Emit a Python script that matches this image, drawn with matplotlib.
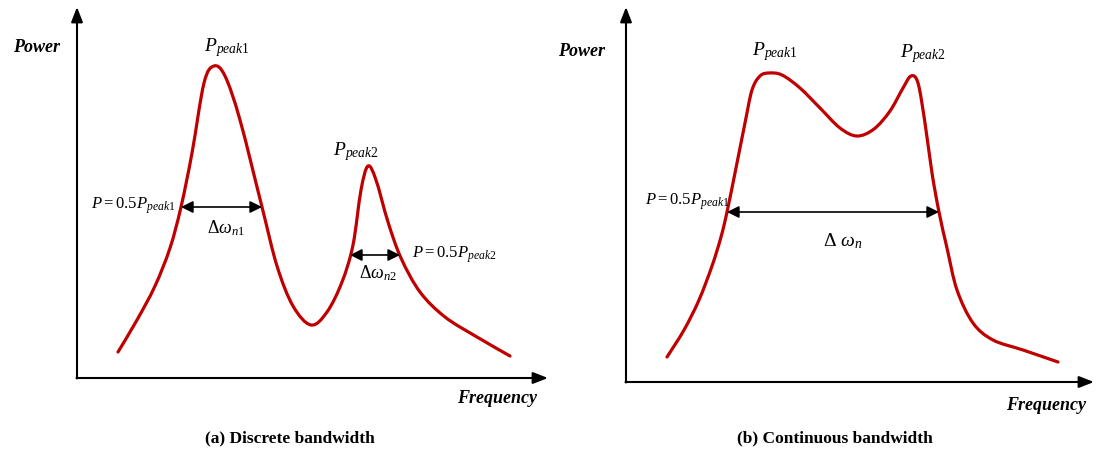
import matplotlib
matplotlib.use("Agg")
import matplotlib.pyplot as plt
from matplotlib.path import Path
from matplotlib.patches import PathPatch

plt.rcParams["font.family"] = "Liberation Serif"
plt.rcParams["mathtext.fontset"] = "custom"
plt.rcParams["mathtext.rm"] = "Liberation Serif"
plt.rcParams["mathtext.it"] = "Liberation Serif:italic"
plt.rcParams["mathtext.bf"] = "Liberation Serif:bold"

# spectrum sketches, frequency vs power in arbitrary units
freq_a = [41, 60, 78, 93, 104, 115, 127, 137, 148, 163, 185, 200, 216, 234,
          250, 265, 276, 284, 291, 299, 311, 324, 343, 368, 400, 433]
power_a = [26, 58, 92, 130, 171, 225, 295, 312, 302, 258, 171, 112, 72, 53,
           66, 96, 133, 188, 212, 198, 156, 120, 86, 61, 41, 22]
freq_b = [41, 58, 73, 86, 95, 101, 110, 119, 126, 134, 143, 156, 174, 194, 214, 231,
          248, 264, 277, 285, 292, 299, 306, 313, 321, 331, 347, 367, 397, 432]
power_b = [25, 52, 82, 116, 145, 170, 214, 259, 292, 306, 309, 307, 294, 274, 254, 246,
           253, 271, 294, 306, 299, 259, 209, 170, 134, 92, 59, 42, 32, 20]

# peaks: (frequency, power)
peaks_a = [(137, 312), (291, 212)]
peaks_b = [(143, 309), (285, 306)]

# half-power bandwidth markers: (f_left, f_right, level)
band_a = [(104, 185, 171), (273, 323, 123)]
band_b = [(101, 313, 170)]

RED = "#C00000"


def smooth_path(xs, ys):
    # cubic Bezier segments through every point (Catmull-Rom tangents)
    pts = list(zip(xs, ys))
    n = len(pts)
    verts = [pts[0]]
    codes = [Path.MOVETO]
    for i in range(n - 1):
        p0 = pts[max(i - 1, 0)]
        p1 = pts[i]
        p2 = pts[i + 1]
        p3 = pts[min(i + 2, n - 1)]
        c1 = (p1[0] + (p2[0] - p0[0]) / 6, p1[1] + (p2[1] - p0[1]) / 6)
        c2 = (p2[0] - (p3[0] - p1[0]) / 6, p2[1] - (p3[1] - p1[1]) / 6)
        verts += [c1, c2, p2]
        codes += [Path.CURVE4] * 3
    return Path(verts, codes)


def draw_axes(ax, xmax, ymax):
    ax.set_xlim(0, xmax)
    ax.set_ylim(0, ymax)
    ax.axis("off")
    style = dict(arrowstyle="-|>,head_length=0.9,head_width=0.35",
                 mutation_scale=10, lw=1.5, color="black", shrinkA=0, shrinkB=0)
    ax.annotate("", xy=(xmax, 0), xytext=(-0.5, 0), arrowprops=style, annotation_clip=False)
    ax.annotate("", xy=(0, ymax), xytext=(0, -0.5), arrowprops=style, annotation_clip=False)


def band_arrow(ax, f0, f1, level):
    ax.annotate("", xy=(f1, level), xytext=(f0, level),
                arrowprops=dict(arrowstyle="<|-|>,head_length=0.8,head_width=0.4",
                                mutation_scale=9, lw=1.2, color="black",
                                shrinkA=0, shrinkB=0))


fig = plt.figure(figsize=(10.97, 4.51), dpi=100)
ax1 = fig.add_axes([77 / 1097, 73 / 451, 471 / 1097, 371 / 451])
ax2 = fig.add_axes([626 / 1097, 69 / 451, 468 / 1097, 375 / 451])

# (a) discrete bandwidth
draw_axes(ax1, 471, 371)
ax1.add_patch(PathPatch(smooth_path(freq_a, power_a), fill=False, ec=RED, lw=2.3,
                        capstyle="round", joinstyle="round"))
ax1.annotate(r"$P_{peak\mathrm{1}}$", peaks_a[0], xytext=(-7, 5), textcoords="offset points",
             ha="left", va="bottom", fontsize=14)
ax1.annotate(r"$P_{peak\mathrm{2}}$", peaks_a[1], xytext=(-25, 2), textcoords="offset points",
             ha="left", va="bottom", fontsize=14)
f0, f1, lv = band_a[0]
band_arrow(ax1, f0, f1, lv)
ax1.annotate(r"$P=0.5P_{peak\mathrm{1}}$", (f0, lv), xytext=(-4, -1), textcoords="offset points",
             ha="right", va="baseline", fontsize=12)
ax1.annotate(r"$\Delta\omega_{n\mathrm{1}}$", ((f0 + f1) / 2, lv), xytext=(3, -19),
             textcoords="offset points", ha="center", va="baseline", fontsize=13)
f0, f1, lv = band_a[1]
band_arrow(ax1, f0, f1, lv)
ax1.annotate(r"$P=0.5P_{peak\mathrm{2}}$", (f1, lv), xytext=(9, -2), textcoords="offset points",
             ha="left", va="baseline", fontsize=12)
ax1.annotate(r"$\Delta\omega_{n\mathrm{2}}$", ((f0 + f1) / 2, lv), xytext=(2, -17),
             textcoords="offset points", ha="center", va="baseline", fontsize=13)
ax1.text(-17, 326, "Power", ha="right", va="baseline", fontsize=13,
         fontweight="bold", fontstyle="italic")
ax1.text(460, -25, "Frequency", ha="right", va="baseline", fontsize=13,
         fontweight="bold", fontstyle="italic")
ax1.text(213, -64, "(a) Discrete bandwidth", ha="center", va="baseline", fontsize=12.5,
         fontweight="bold")

# (b) continuous bandwidth
draw_axes(ax2, 468, 375)
ax2.add_patch(PathPatch(smooth_path(freq_b, power_b), fill=False, ec=RED, lw=2.3,
                        capstyle="round", joinstyle="round"))
ax2.annotate(r"$P_{peak\mathrm{1}}$", peaks_b[0], xytext=(-12, 7), textcoords="offset points",
             ha="left", va="bottom", fontsize=14)
ax2.annotate(r"$P_{peak\mathrm{2}}$", peaks_b[1], xytext=(-8, 8), textcoords="offset points",
             ha="left", va="bottom", fontsize=14)
f0, f1, lv = band_b[0]
band_arrow(ax2, f0, f1, lv)
ax2.annotate(r"$P=0.5P_{peak\mathrm{1}}$", (f0, lv), xytext=(2, 5), textcoords="offset points",
             ha="right", va="baseline", fontsize=12)
ax2.annotate(r"$\Delta\ \omega_{n}$", ((f0 + f1) / 2, lv), xytext=(7, -25),
             textcoords="offset points", ha="center", va="baseline", fontsize=14)
ax2.text(-21, 326, "Power", ha="right", va="baseline", fontsize=13,
         fontweight="bold", fontstyle="italic")
ax2.text(460, -28, "Frequency", ha="right", va="baseline", fontsize=13,
         fontweight="bold", fontstyle="italic")
ax2.text(209, -60, "(b) Continuous bandwidth", ha="center", va="baseline", fontsize=12.5,
         fontweight="bold")

fig.savefig("out.png", dpi=100)
